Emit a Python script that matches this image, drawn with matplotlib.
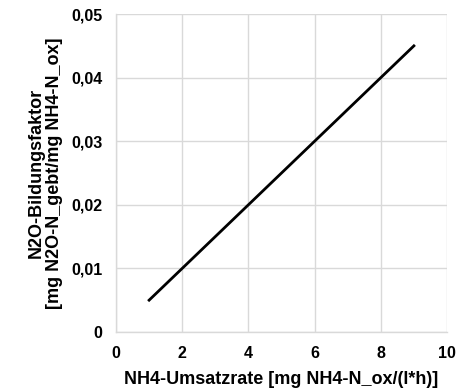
import matplotlib
matplotlib.use("Agg")
import matplotlib.pyplot as plt
from matplotlib.ticker import FuncFormatter

plt.rcParams['font.family'] = ['Liberation Sans', 'DejaVu Sans']
plt.rcParams['font.weight'] = 'bold'

# Conversion rate vs. N2O formation factor
umsatzrate = [1, 9]
bildungsfaktor = [0.005, 0.045]

x_ticks = [0, 2, 4, 6, 8, 10]
y_ticks = [0, 0.01, 0.02, 0.03, 0.04, 0.05]

fig = plt.figure(figsize=(4.72, 3.91), dpi=100)
ax = fig.add_axes([0.2458, 0.151, 0.9470 - 0.2458, 0.964 - 0.151])

ax.plot(umsatzrate, bildungsfaktor, color='black', linewidth=2)

ax.set_xlim(0, 10)
ax.set_ylim(0, 0.05)
ax.set_xticks(x_ticks)
ax.set_yticks(y_ticks)


def komma(v, pos):
    if v == 0:
        return "0"
    return f"{v:.2f}".replace('.', ',')


ax.yaxis.set_major_formatter(FuncFormatter(komma))
ax.xaxis.set_major_formatter(FuncFormatter(lambda v, p: f"{v:g}"))

ax.grid(True, color='#d9d9d9', linewidth=1)
ax.set_axisbelow(True)
for side in ['top', 'right']:
    ax.spines[side].set_visible(False)
for side in ['left', 'bottom']:
    ax.spines[side].set_color('#d9d9d9')
    ax.spines[side].set_linewidth(1)

ax.tick_params(length=0, labelsize=11.5)
ax.tick_params(axis='y', pad=10)
ax.tick_params(axis='x', pad=10)
for lbl in ax.get_xticklabels() + ax.get_yticklabels():
    lbl.set_fontweight('bold')

ax.set_xlabel("NH4-Umsatzrate [mg NH4-N_ox/(l*h)]", fontsize=13,
              fontweight='bold', labelpad=7)
ax.set_ylabel("N2O-Bildungsfaktor\n[mg N2O-N_gebt/mg NH4-N_ox]", fontsize=13,
              fontweight='bold', linespacing=1.1)
ax.yaxis.set_label_coords(-0.16, 0.5)

fig.savefig("out.png", dpi=100)
